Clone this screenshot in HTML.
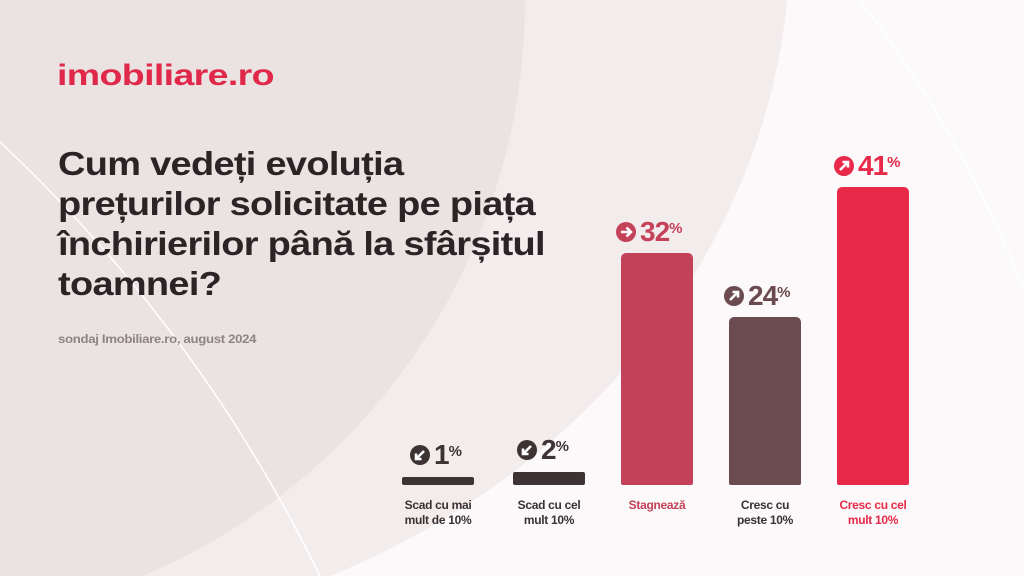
<!DOCTYPE html>
<html><head><meta charset="utf-8"><style>
html,body{margin:0;overflow:hidden}
#c{position:relative;width:1024px;height:576px;overflow:hidden;background:#fbf9f9;font-family:"Liberation Sans",sans-serif}
.abs{position:absolute}
.t{left:58px;top:144px;font-size:33px;font-weight:bold;color:#2b2426;line-height:40px;letter-spacing:-0.6px;transform:scaleX(1.15);transform-origin:0 0;white-space:nowrap}
.bar{position:absolute;width:72px;border-radius:5px 5px 2px 2px}
.lab{position:absolute;width:110px;text-align:center;font-size:12px;font-weight:bold;line-height:15px;color:#3a3133;letter-spacing:-0.3px}
.pct{position:absolute;font-weight:bold;font-size:28px;letter-spacing:-1px;display:flex;align-items:center;height:30px}
.pct sup{font-size:15px;vertical-align:top;position:relative;top:-4px}
.ic{width:20px;height:20px;border-radius:50%;margin-right:4px;display:block;position:relative;flex:none}
.ic svg{display:block;position:absolute;left:0;top:0}
</style></head><body><div id="c">
<svg class="abs" style="left:0;top:0" width="1024" height="576">
<ellipse cx="0" cy="-60" rx="790" ry="700" fill="#f3ecec"/>
<circle cx="-100" cy="0" r="625" fill="#ebe3e2"/>
<path d="M0,142 Q200,330 320,576" stroke="#fff" stroke-width="1.5" fill="none"/>
<path d="M860,0 Q960,130 1024,290" stroke="#fff" stroke-width="1.5" fill="none"/>
</svg>
<div class="abs" style="left:57px;top:59px;font-size:30px;font-weight:bold;color:#e0284a;letter-spacing:-0.5px;transform:scaleX(1.25);transform-origin:0 0">imobiliare.ro</div>
<div class="abs t">Cum vedeți evoluția<br>prețurilor solicitate pe piața<br>închirierilor până la sfârșitul<br>toamnei?</div>
<div class="abs" style="left:58px;top:332px;font-size:12px;font-weight:bold;color:#8e8486;letter-spacing:-0.3px;transform:scaleX(1.1);transform-origin:0 0">sondaj Imobiliare.ro, august 2024</div>

<div class="bar" style="left:402px;top:477px;height:8px;background:#3d3234;border-radius:2px"></div>
<div class="bar" style="left:513px;top:472px;height:13px;background:#3d3234;border-radius:2px"></div>
<div class="bar" style="left:621px;top:253px;height:232px;background:#c4415a"></div>
<div class="bar" style="left:729px;top:317px;height:168px;background:#6b4a50"></div>
<div class="bar" style="left:837px;top:187px;height:298px;background:#e8294a"></div>

<div class="pct" style="left:410px;top:440px;color:#3d3234"><span class="ic" style="background:#3d3234"><svg width="20" height="20"><path d="M14,6 L6,14 M6,8.5 V14 H11.5" stroke="#fff" stroke-width="2.6" fill="none"/></svg></span>1<sup>%</sup></div>
<div class="pct" style="left:517px;top:435px;color:#3d3234"><span class="ic" style="background:#3d3234"><svg width="20" height="20"><path d="M14,6 L6,14 M6,8.5 V14 H11.5" stroke="#fff" stroke-width="2.6" fill="none"/></svg></span>2<sup>%</sup></div>
<div class="pct" style="left:616px;top:217px;color:#c4415a"><span class="ic" style="background:#c4415a"><svg width="20" height="20"><path d="M5,10 H15 M10.5,5.5 L15,10 L10.5,14.5" stroke="#fff" stroke-width="2.6" fill="none"/></svg></span>32<sup>%</sup></div>
<div class="pct" style="left:724px;top:281px;color:#6b4a50"><span class="ic" style="background:#6b4a50"><svg width="20" height="20"><path d="M6,14 L14,6 M8.5,6 H14 V11.5" stroke="#fff" stroke-width="2.6" fill="none"/></svg></span>24<sup>%</sup></div>
<div class="pct" style="left:834px;top:151px;color:#e8294a"><span class="ic" style="background:#e8294a"><svg width="20" height="20"><path d="M6,14 L14,6 M8.5,6 H14 V11.5" stroke="#fff" stroke-width="2.6" fill="none"/></svg></span>41<sup>%</sup></div>

<div class="lab" style="left:383px;top:498px">Scad cu mai<br>mult de 10%</div>
<div class="lab" style="left:494px;top:498px">Scad cu cel<br>mult 10%</div>
<div class="lab" style="left:602px;top:498px;color:#c4415a">Stagnează</div>
<div class="lab" style="left:710px;top:498px">Cresc cu<br>peste 10%</div>
<div class="lab" style="left:818px;top:498px;color:#e8294a">Cresc cu cel<br>mult 10%</div>
</div></body></html>
